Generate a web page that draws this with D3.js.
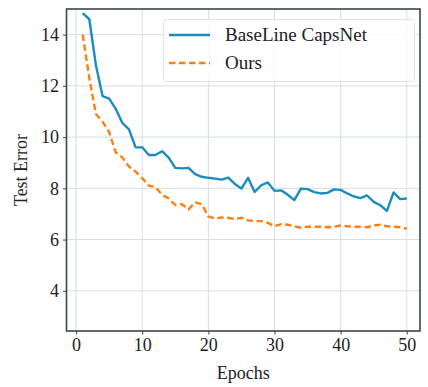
<!DOCTYPE html>
<html><head><meta charset="utf-8">
<script src="https://cdn.jsdelivr.net/npm/d3@7/dist/d3.min.js"></script>
<style>body{margin:0;background:#fff}</style>
</head><body><svg id="c" width="428" height="387"></svg>
<script>
const epochs = d3.range(1, 51);
const baseline = [14.84, 14.6, 12.8, 11.6, 11.5, 11.1, 10.55, 10.3, 9.6, 9.6,
  9.3, 9.3, 9.45, 9.2, 8.8, 8.78, 8.8, 8.55, 8.45, 8.41,
  8.38, 8.34, 8.42, 8.17, 7.99, 8.41, 7.86, 8.12, 8.23, 7.9,
  7.92, 7.75, 7.54, 7.99, 7.97, 7.85, 7.8, 7.82, 7.96, 7.94,
  7.8, 7.68, 7.62, 7.72, 7.47, 7.34, 7.12, 7.84, 7.58, 7.6];
const ours = [14.0, 12.3, 10.9, 10.6, 10.2, 9.4, 9.2, 8.85, 8.65, 8.4,
  8.1, 8.05, 7.75, 7.6, 7.35, 7.38, 7.18, 7.45, 7.38, 6.9,
  6.82, 6.86, 6.85, 6.8, 6.85, 6.75, 6.72, 6.72, 6.65, 6.52,
  6.6, 6.58, 6.52, 6.46, 6.5, 6.5, 6.5, 6.48, 6.5, 6.55,
  6.52, 6.5, 6.5, 6.48, 6.55, 6.58, 6.52, 6.5, 6.48, 6.42];
const xTicks = [0, 10, 20, 30, 40, 50];
const yTicks = [4, 6, 8, 10, 12, 14];
const seriesNames = ["BaseLine CapsNet", "Ours"];

const svg = d3.select("#c");
const font = "Liberation Serif";
const x = d3.scaleLinear().domain([-1.45, 52.0]).range([66.5, 420]);
const y = d3.scaleLinear().domain([2.43, 15.0]).range([331, 9]);

const g = svg.append("g");
g.selectAll(".gx").data(xTicks).enter().append("line")
  .attr("x1", d => x(d)).attr("x2", d => x(d)).attr("y1", y.range()[0]).attr("y2", y.range()[1])
  .attr("stroke", "#d6dee4").attr("stroke-width", 1);
g.selectAll(".gy").data(yTicks).enter().append("line")
  .attr("y1", d => y(d)).attr("y2", d => y(d)).attr("x1", x.range()[0]).attr("x2", x.range()[1])
  .attr("stroke", "#d6dee4").attr("stroke-width", 1);

const line = arr => d3.line().x((d, i) => x(epochs[i])).y(d => y(d))(arr);
g.append("path").attr("d", line(baseline)).attr("fill", "none")
  .attr("stroke", "#1b8cc0").attr("stroke-width", 2.4).attr("stroke-linejoin", "round");
g.append("path").attr("d", line(ours)).attr("fill", "none")
  .attr("stroke", "#ff7f0e").attr("stroke-width", 2.4).attr("stroke-dasharray", "6.5,3.5");

svg.append("rect").attr("x", x.range()[0]).attr("y", y.range()[1])
  .attr("width", x.range()[1] - x.range()[0]).attr("height", y.range()[0] - y.range()[1])
  .attr("fill", "none").attr("stroke", "#3a474c").attr("stroke-width", 1.6);

const xAxis = svg.append("g").attr("transform", `translate(0,${y.range()[0]})`)
  .call(d3.axisBottom(x).tickValues(xTicks).tickSize(3.5).tickPadding(4));
const yAxis = svg.append("g").attr("transform", `translate(${x.range()[0]},0)`)
  .call(d3.axisLeft(y).tickValues(yTicks).tickSize(3.5).tickPadding(4));
[xAxis, yAxis].forEach(a => {
  a.attr("font-family", font).attr("font-size", 18);
  a.select(".domain").remove();
  a.selectAll(".tick line").attr("stroke", "#3a474c").attr("stroke-width", 1);
  a.selectAll("text").attr("font-family", font).attr("font-size", 18).attr("fill", "#222");
});

svg.append("text").attr("x", (x.range()[0] + x.range()[1]) / 2).attr("y", 379)
  .attr("text-anchor", "middle").attr("font-family", font).attr("font-size", 18).attr("fill", "#222").text("Epochs");
svg.append("text").attr("transform", `translate(27,${(y.range()[0] + y.range()[1]) / 2}) rotate(-90)`)
  .attr("text-anchor", "middle").attr("font-family", font).attr("font-size", 18).attr("fill", "#222").text("Test Error");

const lg = svg.append("g");
lg.append("rect").attr("x", 163.5).attr("y", 19.5).attr("width", 251).attr("height", 62).attr("rx", 3)
  .attr("fill", "#fff").attr("fill-opacity", 0.85).attr("stroke", "#dde3e7");
const colors = ["#1b8cc0", "#ff7f0e"];
seriesNames.forEach((n, i) => {
  const yy = 35 + i * 28;
  lg.append("line").attr("x1", 169).attr("x2", 210).attr("y1", yy).attr("y2", yy)
    .attr("stroke", colors[i]).attr("stroke-width", 2.4)
    .attr("stroke-dasharray", i === 1 ? "6.5,3.5" : null);
  lg.append("text").attr("x", 225).attr("y", yy + 6).attr("font-family", font).attr("font-size", 19)
    .attr("fill", "#222").text(n);
});
</script></body></html>
